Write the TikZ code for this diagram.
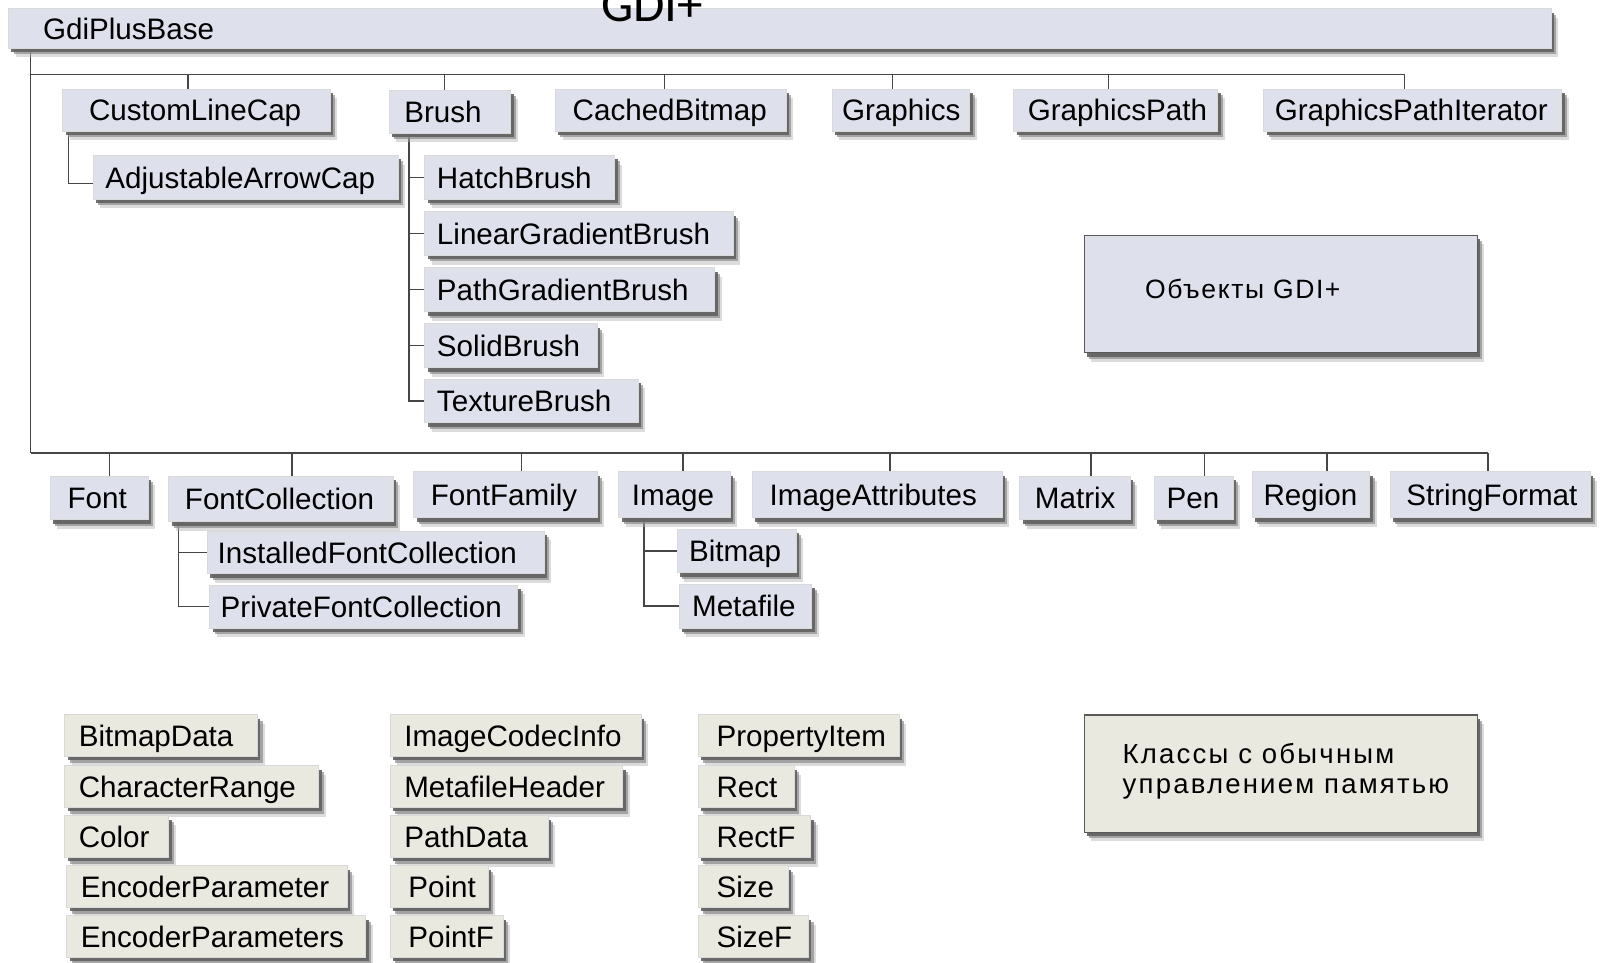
\documentclass[tikz,border=0pt]{standalone}
\usepackage{fontspec}
\setmainfont{Liberation Sans}
\newfontfamily\titlefont{Carlito}
\newfontfamily\rufont[LetterSpace=6]{Liberation Sans}
\newfontfamily\rufontb[LetterSpace=8]{Liberation Sans}
\usetikzlibrary{shadows,calc}
\definecolor{lav}{RGB}{222,224,236}
\definecolor{beige}{RGB}{233,233,223}
\definecolor{ln}{RGB}{70,70,70}
\pgfdeclarelayer{bg}
\pgfdeclarelayer{paper}
\pgfsetlayers{paper,bg,main}
\tikzset{
  sh/.style={drop shadow={shadow xshift=7pt,shadow yshift=-9pt,fill=black!30,opacity=0.45},
             drop shadow={shadow xshift=5pt,shadow yshift=-6pt,fill=black!45,opacity=0.7},
             drop shadow={shadow xshift=3pt,shadow yshift=-4pt,fill=black!62,opacity=0.9}},
  lbox/.style={sh, fill=lav, draw=black!15, line width=0.5pt},
  bbox/.style={sh, fill=beige, draw=black!15, line width=0.5pt},
  bigl/.style={sh, fill=lav, draw=black!65, line width=1.2pt},
  bigb/.style={sh, fill=beige, draw=black!65, line width=1.2pt},
  conn/.style={draw=ln, line width=1.5pt},
  lbl/.style={font=\fontsize{29}{32}\selectfont},
  rulbl/.style={font=\rufont\fontsize{26}{30}\selectfont, align=left, inner sep=0pt},
  rulblb/.style={font=\rufontb\fontsize{27}{30}\selectfont, align=left, inner sep=0pt},
}
% #1 style, #2 name, #3 x1, #4 y1, #5 x2, #6 y2, #7 text x, #8 text
\newcommand\gb[8]{%
  \pgfmathsetmacro\bxw{#5-#3}%
  \pgfmathsetmacro\bxh{#6-#4}%
  \pgfmathsetmacro\bxp{#7-#3}%
  \node[#1, lbl, anchor=north west, inner sep=0pt, text width=\bxw pt,
        minimum height=\bxh pt, align=left, text height=21pt, text depth=0pt]
        (#2) at (#3,#4) {\hspace*{\bxp pt}#8};}
\begin{document}
\begin{tikzpicture}[x=1pt,y=-1pt]
\useasboundingbox (0,0) rectangle (1568,943);
\begin{pgfonlayer}{paper}
\fill[white] (0,0) rectangle (1568,943);
\end{pgfonlayer}
% top bar
\gb{lbox}{gdi}{8}{8}{1520}{47}{42}{GdiPlusBase}
\node[font=\titlefont\fontsize{50}{50}\selectfont, anchor=base, inner sep=0pt] (title) at (639,21) {GDI+};
% row 1
\gb{lbox}{cl}{61}{87}{323}{128}{87}{CustomLineCap}
\gb{lbox}{brush}{381}{88}{500}{130}{396}{Brush}
\gb{lbox}{cb}{544}{87}{770}{128}{561}{CachedBitmap}
\gb{lbox}{gr}{815}{87}{950}{128}{825}{Graphics}
\gb{lbox}{gp}{993}{87}{1193}{128}{1007}{GraphicsPath}
\gb{lbox}{gpi}{1238}{87}{1530}{128}{1249}{GraphicsPathIterator}
\gb{lbox}{aac}{91}{152}{390}{195}{103}{AdjustableArrowCap}
\gb{lbox}{hb}{416}{152}{602}{195}{428}{HatchBrush}
\gb{lbox}{lgb}{416}{207}{718}{250}{428}{LinearGradientBrush}
\gb{lbox}{pgb}{416}{262}{700}{305}{428}{PathGradientBrush}
\gb{lbox}{sb}{416}{317}{585}{360}{428}{SolidBrush}
\gb{lbox}{tb}{416}{371}{625}{414}{428}{TextureBrush}
% legend box 1
\node[bigl, anchor=north west, minimum width=385pt, minimum height=115pt, inner sep=0pt] (obj) at (1062,230) {};
\node[rulbl, anchor=west] (objt) at (1122,283) {Объекты GDI+};
% row 2
\gb{lbox}{font}{49}{466}{145}{509}{66}{Font}
\gb{lbox}{fc}{165}{466}{385}{511}{181}{FontCollection}
\gb{lbox}{ff}{405}{462}{585}{507}{422}{FontFamily}
\gb{lbox}{img}{606}{462}{715}{507}{619}{Image}
\gb{lbox}{ia}{737}{462}{982}{507}{754}{ImageAttributes}
\gb{lbox}{mat}{999}{466}{1107}{509}{1014}{Matrix}
\gb{lbox}{pen}{1131}{466}{1208}{509}{1143}{Pen}
\gb{lbox}{reg}{1227}{462}{1342}{507}{1238}{Region}
\gb{lbox}{sf}{1362}{462}{1558}{507}{1378}{StringFormat}
\gb{lbox}{ifc}{203}{520}{533}{562}{213}{InstalledFontCollection}
\gb{lbox}{pfc}{205}{573}{507}{615}{216}{PrivateFontCollection}
\gb{lbox}{bmp}{663}{518}{780}{561}{675}{Bitmap}
\gb{lbox}{mf}{665}{572}{795}{615}{678}{Metafile}
% bottom classes
\gb{bbox}{bd}{63}{700}{252}{741}{77}{BitmapData}
\gb{bbox}{cr}{63}{750}{312}{791}{77}{CharacterRange}
\gb{bbox}{col}{63}{799}{165}{840}{77}{Color}
\gb{bbox}{ep}{65}{848}{340}{889}{79}{EncoderParameter}
\gb{bbox}{eps}{65}{897}{358}{938}{79}{EncoderParameters}
\gb{bbox}{ici}{382}{700}{628}{741}{396}{ImageCodecInfo}
\gb{bbox}{mh}{382}{750}{610}{791}{396}{MetafileHeader}
\gb{bbox}{pd}{382}{799}{537}{840}{396}{PathData}
\gb{bbox}{pt}{382}{848}{478}{889}{400}{Point}
\gb{bbox}{ptf}{382}{897}{493}{938}{400}{PointF}
\gb{bbox}{pi}{684}{700}{881}{741}{702}{PropertyItem}
\gb{bbox}{rc}{684}{750}{778}{791}{702}{Rect}
\gb{bbox}{rcf}{684}{799}{794}{840}{702}{RectF}
\gb{bbox}{sz}{684}{848}{772}{889}{702}{Size}
\gb{bbox}{szf}{684}{897}{792}{938}{702}{SizeF}
% legend box 2
\node[bigb, anchor=north west, minimum width=385pt, minimum height=115pt, inner sep=0pt] (mem) at (1062,700) {};
\node[rulblb, anchor=north west] (memt) at (1100,728) {Классы с обычным\\управлением памятью};
% connectors
\begin{pgfonlayer}{bg}
\coordinate (j1) at (30,73);
\coordinate (j2) at (30,444);
\draw[conn] (gdi.south -| j1) -- (j2);
\foreach \n/\s in {cl/-8,brush/-5,cb/-6,gr/-8,gp/-7,gpi/-8}{
  \coordinate (t\n) at ([xshift=\s pt]\n.north);
  \draw[conn] (t\n) -- (t\n |- j1);
}
\draw[conn] (j1) -- (j1 -| tgpi);
\foreach \n/\s in {font/10,fc/11,ff/16,img/8.5,ia/12.5,mat/16,pen/10.5,reg/15.5,sf/-2}{
  \coordinate (u\n) at ([xshift=\s pt]\n.north);
  \draw[conn] (u\n) -- (u\n |- j2);
}
\draw[conn] (j2) -- (j2 -| usf);
\coordinate (cv) at ([xshift=6pt]cl.south west);
\draw[conn] (cv) |- ([yshift=-6pt]aac.west);
\coordinate (bv) at ([xshift=20pt]brush.south west);
\draw[conn] (bv) |- (tb.west);
\foreach \n in {hb,lgb,pgb,sb}{\draw[conn] (\n.west -| bv) -- (\n.west);}
\coordinate (fv) at ([xshift=10pt]fc.south west);
\draw[conn] (fv) |- (pfc.west);
\draw[conn] (ifc.west -| fv) -- (ifc.west);
\coordinate (iv) at ([xshift=25pt]img.south west);
\draw[conn] (iv) |- (mf.west);
\draw[conn] (bmp.west -| iv) -- (bmp.west);
\end{pgfonlayer}
\end{tikzpicture}
\end{document}
